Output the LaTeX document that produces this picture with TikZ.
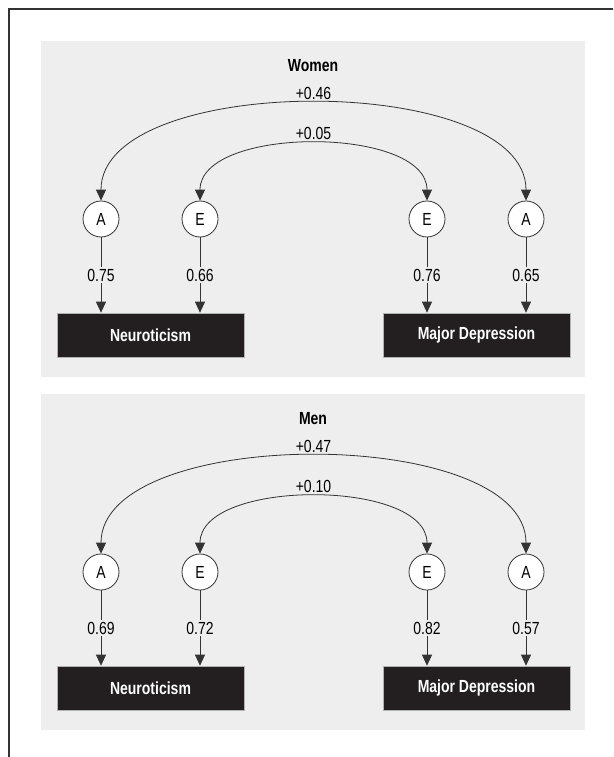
\documentclass[tikz,border=0pt]{standalone}
\usepackage{fontspec}
\setmainfont{Liberation Sans}[FakeStretch=0.8]
\usepackage{tikz}
\usetikzlibrary{arrows.meta}
\definecolor{panelgray}{HTML}{EEEEEE}
\definecolor{boxblack}{HTML}{231F20}
\definecolor{linegray}{HTML}{333333}

\begin{document}
\begin{tikzpicture}[x=1pt,y=1pt,>={Triangle[width=10pt,length=11pt]},node distance=99pt,
    font=\fontsize{17.5}{20}\selectfont]
\tikzstyle{latent}=[circle,draw=linegray,fill=white,minimum size=36pt,inner sep=0pt,line width=0.8pt]
\tikzstyle{observed}=[rectangle,fill=boxblack,draw=gray!60,line width=0.6pt,text=white,font=\fontsize{17.5}{20}\selectfont\bfseries,minimum width=187pt,minimum height=44pt]
\tikzstyle{loading}=[->,draw=linegray,line width=0.8pt]
\tikzstyle{corr}=[<->,draw=linegray,line width=0.8pt]
\tikzstyle{coef}=[fill=panelgray,inner sep=2pt]
\useasboundingbox (0,0) rectangle (613,-757);
\draw[linegray,line width=1.6pt] (9,-757) -- (9,-9) -- (613,-9);
% women
\fill[panelgray] (41,-41) rectangle (585,-377);
\node[font=\fontsize{17.5}{20}\selectfont\bfseries] (titleW) at (313,-66) {Women};
\node[latent] (aWN) at (101,-219) {A};
\node[latent][right of=aWN] (eWN) {E};
\node[latent][node distance=227pt,right of=eWN] (eWD) {E};
\node[latent][right of=eWD] (aWD) {A};
\node[observed] (nW) at (150.5,-335) {Neuroticism};
\node[observed] (dW) at (476.5,-335) {Major Depression};
\draw[loading] (aWN) -- node[coef]{0.75} (aWN |- nW.north);
\draw[loading] (eWN) -- node[coef]{0.66} (eWN |- nW.north);
\draw[loading] (eWD) -- node[coef]{0.76} (eWD |- dW.north);
\draw[loading] (aWD) -- node[coef]{0.65} (aWD |- dW.north);
\draw[corr] (aWN.north) .. controls +(0,129) and +(0,129) .. (aWD.north) node[pos=0.5,above,inner sep=4pt]{+0.46};
\draw[corr] (eWN.north) .. controls +(0,75) and +(0,75) .. (eWD.north) node[pos=0.5,above,inner sep=4pt]{+0.05};
% men
\fill[panelgray] (41,-394) rectangle (585,-730);
\node[font=\fontsize{17.5}{20}\selectfont\bfseries] (titleM) at (313,-419) {Men};
\node[latent] (aMN) at (101,-572) {A};
\node[latent][right of=aMN] (eMN) {E};
\node[latent][node distance=227pt,right of=eMN] (eMD) {E};
\node[latent][right of=eMD] (aMD) {A};
\node[observed] (nM) at (150.5,-688) {Neuroticism};
\node[observed] (dM) at (476.5,-688) {Major Depression};
\draw[loading] (aMN) -- node[coef]{0.69} (aMN |- nM.north);
\draw[loading] (eMN) -- node[coef]{0.72} (eMN |- nM.north);
\draw[loading] (eMD) -- node[coef]{0.82} (eMD |- dM.north);
\draw[loading] (aMD) -- node[coef]{0.57} (aMD |- dM.north);
\draw[corr] (aMN.north) .. controls +(0,129) and +(0,129) .. (aMD.north) node[pos=0.5,above,inner sep=4pt]{+0.47};
\draw[corr] (eMN.north) .. controls +(0,75) and +(0,75) .. (eMD.north) node[pos=0.5,above,inner sep=4pt]{+0.10};
\end{tikzpicture}
\end{document}
